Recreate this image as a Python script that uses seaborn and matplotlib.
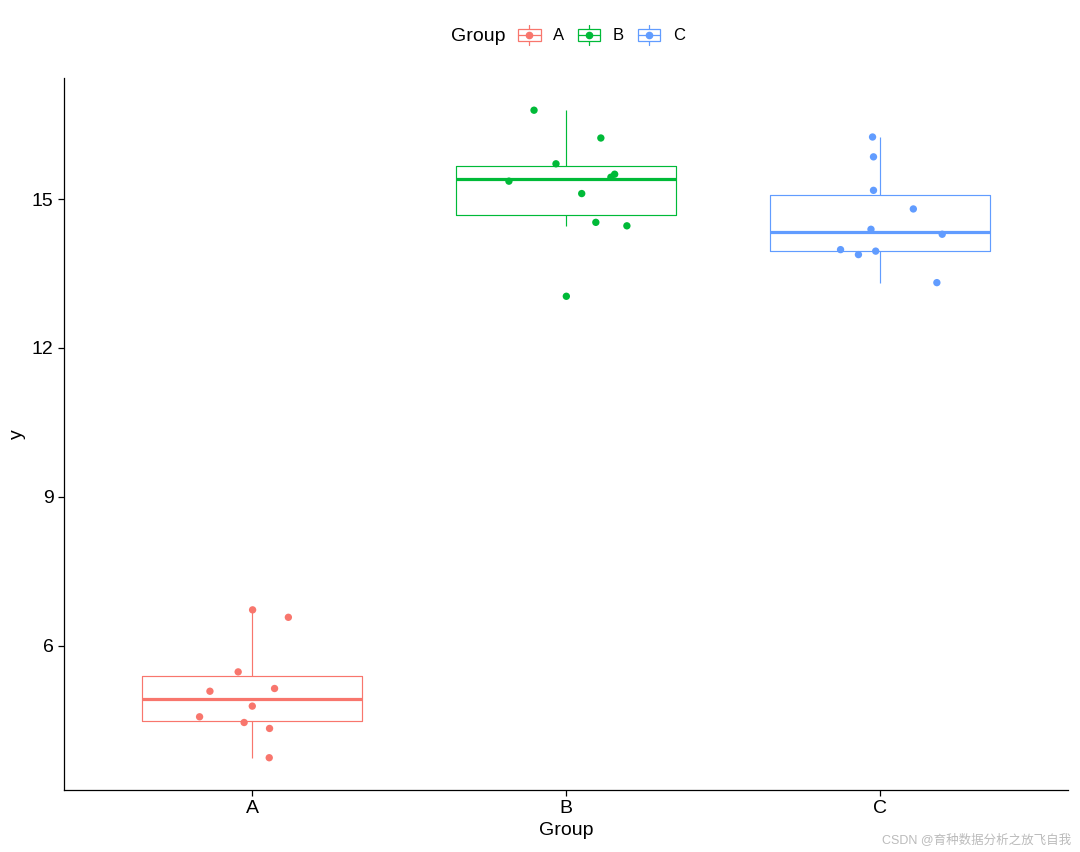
import numpy as np
import pandas as pd
import matplotlib.pyplot as plt
import seaborn as sns
from matplotlib.legend_handler import HandlerBase
from matplotlib.patches import Rectangle
from matplotlib.lines import Line2D

# Werte
groups = ["A", "B", "C"]
colors = ["#F8766D", "#00BA38", "#619CFF"]

y_a = [6.72, 6.57, 5.47, 5.135, 5.08, 4.78, 4.565, 4.45, 4.33, 3.74]
y_b = [16.79, 16.23, 15.71, 15.50, 15.44, 15.36, 15.11, 14.53, 14.46, 13.04]
y_c = [16.25, 15.85, 15.175, 14.80, 14.39, 14.29, 13.98, 13.95, 13.88, 13.315]

jit_a = [0.001, 0.115, -0.045, 0.071, -0.135, 0.0, -0.168, -0.026, 0.055, 0.054]
jit_b = [-0.102, 0.111, -0.032, 0.155, 0.143, -0.182, 0.050, 0.095, 0.194, 0.001]
jit_c = [-0.023, -0.020, -0.020, 0.107, -0.028, 0.199, -0.125, -0.013, -0.068, 0.182]

df = pd.DataFrame({
    "Group": np.repeat(groups, 10),
    "y": y_a + y_b + y_c,
    "jitter": jit_a + jit_b + jit_c,
})
df["pos"] = df["Group"].map({g: i for i, g in enumerate(groups)}) + df["jitter"]

sns.set_theme(style="ticks")
plt.rcParams["font.family"] = ["Liberation Sans", "Noto Sans CJK SC", "DejaVu Sans"]
plt.rcParams["text.color"] = "black"


class BoxKey(HandlerBase):
    def create_artists(self, legend, orig_handle, xdescent, ydescent,
                       width, height, fontsize, trans):
        c = orig_handle.get_color()
        x0, y0 = -xdescent, -ydescent
        bh = height * 0.6
        by = y0 + (height - bh) / 2
        box = Rectangle((x0, by), width, bh, facecolor="white",
                        edgecolor=c, linewidth=0.9, transform=trans)
        wl = Line2D([x0 + width / 2] * 2, [y0, y0 + height],
                    color=c, linewidth=0.9, transform=trans)
        med = Line2D([x0, x0 + width], [y0 + height / 2] * 2,
                     color=c, linewidth=0.9, transform=trans)
        dot = Line2D([x0 + width / 2], [y0 + height / 2], marker="o",
                     markersize=4.5, color=c, linestyle="none", transform=trans)
        return [wl, box, med, dot]


fig = plt.figure(figsize=(10.8, 8.52), dpi=100)
ax = fig.add_axes([0.0593, 0.0728, 0.9296, 0.8357])

sns.boxplot(data=df, x="Group", y="y", hue="Group", order=groups,
            palette=colors, fill=False, width=0.7, showcaps=False,
            showfliers=False, linewidth=0.85, medianprops={"linewidth": 2.3},
            legend=False, ax=ax)
sns.scatterplot(data=df, x="pos", y="y", hue="Group", palette=colors,
                s=28, linewidth=0, legend=False, ax=ax, zorder=3)

ax.set_xlim(-0.6, 2.6)
ax.set_ylim(3.09, 17.44)
ax.set_xticks([0, 1, 2])
ax.set_xticklabels(groups)
ax.set_yticks([6, 9, 12, 15])
ax.tick_params(length=4, width=0.9, color="black", labelsize=14,
               labelcolor="black")
for s in ["top", "right"]:
    ax.spines[s].set_visible(False)
for s in ["left", "bottom"]:
    ax.spines[s].set_color("black")
    ax.spines[s].set_linewidth(0.9)
ax.set_xlabel("Group", fontsize=14, color="black", labelpad=3)
ax.set_ylabel("y", fontsize=14, color="black")

# Legende oben
fig.text(0.4176, 0.957, "Group", fontsize=14, va="center", ha="left",
         color="black")
handles = [Line2D([], [], color=c) for c in colors]
fig.legend(handles, groups, loc="center left", bbox_to_anchor=(0.4795, 0.959),
           ncol=3, frameon=False, handler_map={Line2D: BoxKey()},
           fontsize=12, handlelength=1.36, handleheight=1.45,
           handletextpad=0.74, columnspacing=0.83, borderpad=0,
           borderaxespad=0, labelcolor="black")

fig.text(0.992, 0.014, "CSDN @育种数据分析之放飞自我", ha="right", va="center",
         fontsize=9, color="#bbbbbb")

fig.savefig("out.png", dpi=100)
